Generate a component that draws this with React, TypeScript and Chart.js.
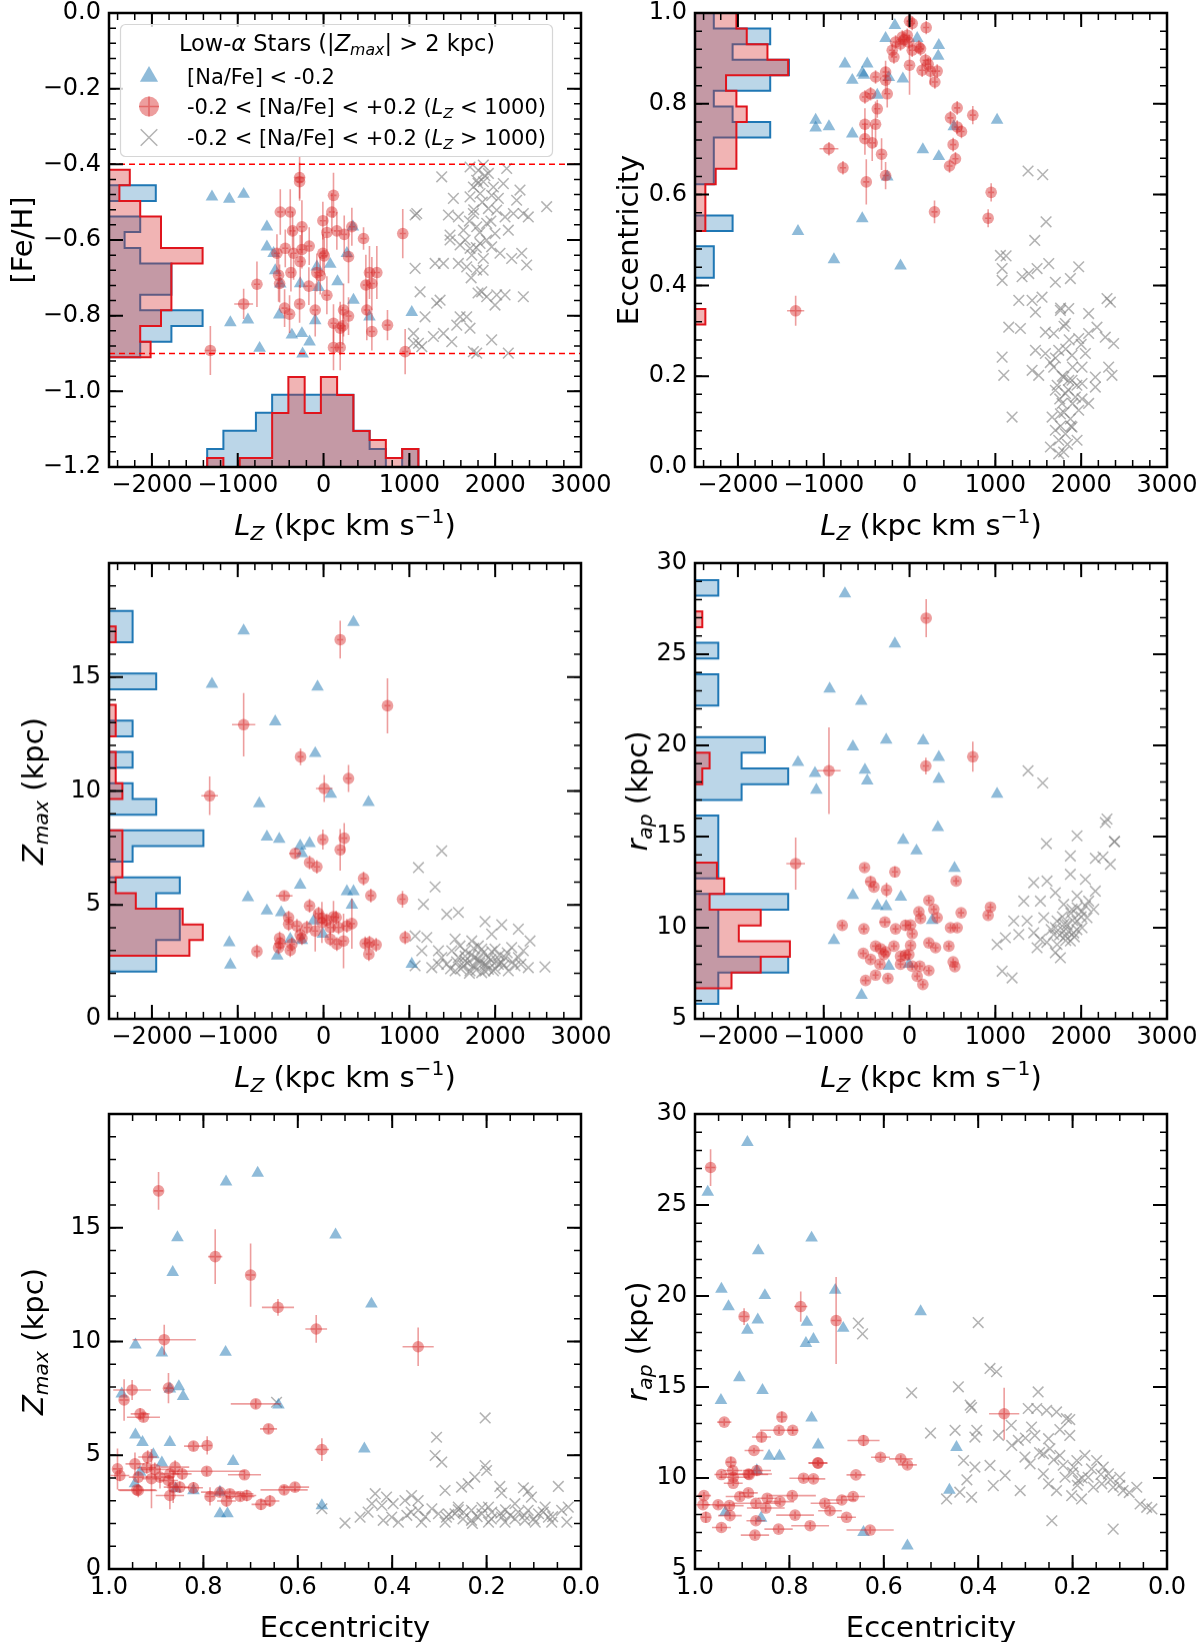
import { useEffect, useRef } from 'react';
import { Chart, registerables } from 'chart.js';

Chart.register(...registerables);

type Pt = [number, number];
type ErrPt = number[]; // [x, y, xerr?, yerr?]
type Seg = { t: string; it?: boolean; sub?: boolean; sup?: boolean };

const FONT = '"DejaVu Sans", sans-serif';

// ---------------- data: [Fe/H] vs Lz ----------------
const fehLzBlue: Pt[] = [
  [-1300, -0.486], [-1098, -0.492], [-931, -0.479], [-660, -0.565], [-660, -0.618], [-582, -0.635],
  [-563, -0.681], [-504, -0.716], [-272, -0.715], [-78, -0.671], [78, -0.664], [163, -0.71],
  [272, -0.635], [341, -0.565], [349, -0.759], [535, -0.803], [1028, -0.791], [-516, -0.798],
  [-97, -0.813], [-1086, -0.818], [-881, -0.811], [-369, -0.851], [-252, -0.847], [-163, -0.869],
  [-745, -0.886], [-244, -0.901], [-58, -0.725],
];
const fehLzRed: ErrPt[] = [
  [-279, -0.435, 60, 0.055], [-279, -0.446], [116, -0.482, 35, 0.06], [-504, -0.526, 35, 0.06],
  [-388, -0.526, 35, 0.06], [97, -0.526], [-8, -0.549], [-252, -0.565, 35, 0.07], [-361, -0.576],
  [330, -0.565], [39, -0.58], [155, -0.576], [241, -0.585], [466, -0.596, 35, 0.03], [923, -0.583, 35, 0.065],
  [-167, -0.616], [-446, -0.622], [-543, -0.635], [-349, -0.635, 35, 0.07], [-252, -0.625], [-8, -0.635],
  [8, -0.642], [-272, -0.657, 35, 0.07], [291, -0.644, 35, 0.07], [621, -0.686, 35, 0.07], [535, -0.686, 35, 0.07],
  [-380, -0.686], [-78, -0.686], [-39, -0.694], [-524, -0.693, 35, 0.07], [-512, -0.715], [-776, -0.717, 35, 0.06],
  [-171, -0.722], [493, -0.719, 35, 0.08], [563, -0.715, 35, 0.07], [39, -0.746], [-931, -0.769, 110, 0.04],
  [-279, -0.769], [-97, -0.785, 35, 0.07], [-454, -0.78], [-396, -0.796], [233, -0.785, 35, 0.07], [291, -0.801],
  [504, -0.785, 35, 0.08], [116, -0.82], [194, -0.833, 35, 0.07], [225, -0.827], [563, -0.842], [745, -0.825, 35, 0.04],
  [116, -0.884, 35, 0.06], [194, -0.884, 35, 0.06], [-1319, -0.892, 60, 0.065], [951, -0.895, 35, 0.06],
];
const fehLzGray: Pt[] = [
  [1377, -0.433], [1513, -0.49], [1707, -0.407], [1804, -0.416], [1862, -0.402], [1921, -0.424], [1785, -0.442],
  [1862, -0.446], [1746, -0.46], [1979, -0.46], [2095, -0.451], [2134, -0.411], [1824, -0.477], [1707, -0.486],
  [1959, -0.482], [2037, -0.49], [2289, -0.468], [2250, -0.495], [2328, -0.53], [2600, -0.512], [1067, -0.534],
  [1086, -0.53], [1455, -0.534], [1571, -0.539], [1746, -0.53], [1921, -0.517], [2018, -0.521], [2115, -0.539],
  [2212, -0.53], [2386, -0.539], [1474, -0.587], [1630, -0.574], [1785, -0.565], [1901, -0.556], [1998, -0.583],
  [2153, -0.574], [1474, -0.6], [1591, -0.613], [1707, -0.622], [1824, -0.609], [1959, -0.618], [2056, -0.635],
  [1727, -0.64], [1862, -0.649], [2192, -0.649], [2309, -0.635], [2367, -0.666], [1300, -0.662], [1397, -0.662],
  [1571, -0.662], [1668, -0.671], [1785, -0.679], [1067, -0.675], [1125, -0.737], [1319, -0.767], [1358, -0.759],
  [1843, -0.737], [1901, -0.75], [2018, -0.745], [2115, -0.745], [2328, -0.75], [1998, -0.772], [1183, -0.803],
  [1591, -0.803], [1668, -0.803], [1552, -0.825], [1707, -0.833], [1397, -0.847], [1280, -0.855], [1048, -0.847],
  [1106, -0.873], [1145, -0.882], [1494, -0.869], [1959, -0.864], [1746, -0.895], [1785, -0.899], [2153, -0.899],
  [1048, -0.873], [1800, -0.45], [1850, -0.5], [1750, -0.52], [1900, -0.6], [1820, -0.58], [1700, -0.55],
  [1880, -0.43], [1780, -0.62], [1950, -0.55], [1650, -0.6], [1860, -0.68], [1720, -0.7], [1800, -0.74],
];
const fehCuts = [-0.4, -0.9];
const fehBinEdges = [-0.91, -0.869, -0.827, -0.786, -0.745, -0.703, -0.662, -0.621, -0.579, -0.538, -0.497, -0.455, -0.414];
const fehHistBlue = [2, 4, 6, 2, 4, 4, 2, 1, 2, 0, 3, 0];
const fehHistRed = [4, 3, 5, 6, 6, 6, 9, 5, 5, 3, 1, 2];
const lzBinEdges = [-1356, -1167, -977, -788, -599, -410, -220, -31, 158, 348, 537, 726, 916, 1105];
const lzHistBlue = [1, 2, 2, 3, 4, 4, 4, 4, 4, 2, 1, 0, 1];
const lzHistRed = [1, 0, 1, 1, 6, 10, 6, 10, 8, 4, 3, 1, 2];

// ---------------- data: eccentricity vs Lz ----------------
const eccLzBlue: Pt[] = [
  [-171, 0.973], [-279, 0.944], [89, 0.944], [341, 0.929], [334, 0.905], [-753, 0.888], [-493, 0.888],
  [-551, 0.868], [-667, 0.852], [-241, 0.858], [-78, 0.855], [-376, 0.819], [-1094, 0.764], [-1094, 0.747],
  [-939, 0.75], [-667, 0.734], [516, 0.75], [1020, 0.764], [155, 0.699], [341, 0.684], [-260, 0.639],
  [-551, 0.547], [-1300, 0.519], [-881, 0.457], [-105, 0.443], [-532, 0.863],
];
const eccLzRed: ErrPt[] = [
  [0, 0.982], [31, 0.977], [194, 0.968], [-85, 0.947], [-27, 0.951], [-163, 0.936], [-105, 0.932], [-202, 0.918],
  [-182, 0.903], [-8, 0.936], [109, 0.925], [128, 0.921], [31, 0.918], [-66, 0.941], [0, 0.885, 35, 0.065],
  [186, 0.896], [217, 0.887], [147, 0.874], [244, 0.872, 35, 0.03], [322, 0.872], [295, 0.848],
  [-279, 0.87, 35, 0.025], [-396, 0.859], [-520, 0.815], [-454, 0.822], [-260, 0.822, 35, 0.03],
  [-376, 0.789, 35, 0.02], [-279, 0.852, 35, 0.03], [-520, 0.755, 35, 0.035], [-396, 0.755, 35, 0.05],
  [-520, 0.723, 35, 0.035], [-435, 0.714, 35, 0.04], [-326, 0.689, 35, 0.035], [-279, 0.642, 35, 0.03],
  [-504, 0.628, 35, 0.05], [-939, 0.701, 110, 0.015], [-776, 0.659], [-1327, 0.344, 100, 0.033],
  [555, 0.791], [477, 0.769], [737, 0.775, 35, 0.02], [555, 0.749], [605, 0.739], [508, 0.71], [535, 0.679],
  [466, 0.663], [951, 0.605, 35, 0.02], [291, 0.562, 35, 0.025], [916, 0.548, 35, 0.02],
];
const eccLzGray: Pt[] = [
  [1381, 0.652], [1552, 0.644], [1591, 0.54], [1459, 0.499], [1059, 0.466], [1125, 0.465], [1079, 0.437],
  [1079, 0.411], [1311, 0.419], [1389, 0.426], [1486, 0.437], [1622, 0.448], [1971, 0.441], [1699, 0.407],
  [1874, 0.415], [1273, 0.367], [1428, 0.367], [1544, 0.374], [1467, 0.341], [1758, 0.345], [1855, 0.349],
  [2087, 0.338], [2301, 0.371], [2340, 0.363], [1156, 0.308], [1292, 0.305], [1583, 0.297], [1680, 0.294],
  [1816, 0.316], [1971, 0.283], [2087, 0.294], [2184, 0.308], [2281, 0.286], [2378, 0.272], [1467, 0.257],
  [1583, 0.25], [1738, 0.257], [1893, 0.246], [2049, 0.25], [1079, 0.242], [1098, 0.202], [1428, 0.213],
  [1505, 0.202], [1680, 0.22], [1796, 0.198], [1893, 0.191], [2010, 0.184], [2165, 0.198], [2320, 0.22],
  [2359, 0.202], [1699, 0.169], [1816, 0.162], [1932, 0.154], [2087, 0.14], [1777, 0.14], [1661, 0.11],
  [1758, 0.117], [1874, 0.106], [1971, 0.125], [1195, 0.11], [1699, 0.081], [1816, 0.073], [1952, 0.059],
  [1738, 0.059], [1641, 0.044], [1893, 0.088], [1738, 0.029], [1796, 0.033], [2010, 0.15], [2165, 0.176],
  [1855, 0.191], [2010, 0.22], [1750, 0.15], [1800, 0.12], [1850, 0.17], [1900, 0.14], [1780, 0.2], [1720, 0.18],
  [1880, 0.09], [1840, 0.05], [1760, 0.09], [1950, 0.18], [1700, 0.24], [1820, 0.26], [1900, 0.22], [1640, 0.23],
  [1860, 0.28], [1800, 0.31], [1760, 0.35], [2000, 0.27],
];
const eccBinEdges = [0.314, 0.348, 0.383, 0.417, 0.451, 0.486, 0.52, 0.554, 0.588, 0.623, 0.657, 0.691, 0.726,
  0.76, 0.794, 0.829, 0.863, 0.897, 0.931, 0.966, 1.0];
const eccHistBlue = [0, 0, 0, 1, 1, 0, 2, 0, 0, 1, 1, 1, 4, 2, 1, 4, 5, 2, 4, 1];
const eccHistRed = [1, 0, 0, 0, 0, 0, 1, 1, 1, 2, 4, 4, 4, 5, 4, 3, 9, 7, 5, 4];

// ---------------- data: Zmax vs Lz ----------------
const zmaxLzBlue: Pt[] = [
  [155, 20.15], [349, 17.4], [-931, 17.03], [-1300, 14.69], [-70, 14.57], [-563, 13.04], [-97, 11.65], [85, 9.86],
  [524, 9.5], [-749, 9.45], [-660, 7.99], [-516, 7.89], [-272, 7.59], [-163, 7.7], [-252, 7.26], [-272, 5.88],
  [272, 5.59], [349, 5.59], [330, 5.0], [-881, 5.33], [-660, 4.74], [-493, 4.67], [-116, 4.3], [-8, 3.72],
  [-388, 3.5], [-252, 3.45], [-1098, 3.35], [-539, 2.77], [-1086, 2.37], [1028, 2.4],
];
const zmaxLzRed: ErrPt[] = [
  [194, 16.64, 35, 0.83], [745, 13.74, 35, 1.21], [-931, 12.91, 136, 1.39], [-268, 11.5, 35, 0.37],
  [291, 10.55, 35, 0.59], [8, 10.11, 97, 0.59], [-1327, 9.79, 97, 0.85], [-8, 7.87, 35, 0.44], [241, 7.93, 35, 0.66],
  [194, 7.42, 35, 0.91], [-330, 7.26, 70, 0.2], [-163, 6.86], [-78, 6.67], [466, 6.16], [-458, 5.4, 97, 0.2],
  [551, 5.41], [920, 5.25, 35, 0.37], [-163, 4.96], [-407, 4.45], [-58, 4.62], [-19, 4.42], [39, 4.33],
  [116, 4.48, 35, 0.7], [147, 4.45], [-407, 4.16], [-310, 4.08], [-194, 4.01], [-97, 3.86, 35, 0.9], [78, 4.01],
  [175, 4.01], [272, 4.08], [330, 4.18, 35, 1.1], [951, 3.57], [-512, 3.54], [-504, 3.31, 70, 0.3], [-272, 3.69],
  [-252, 3.54], [-369, 3.28], [-776, 2.96], [-524, 3.13], [-388, 3.01], [155, 3.28], [233, 3.42, 35, 1.2],
  [485, 3.31], [535, 3.35], [613, 3.25], [528, 2.84], [78, 3.5], [-19, 4.23, 35, 0.9],
];
const zmaxLzGray: Pt[] = [
  [1377, 7.37], [1106, 6.64], [1300, 5.79], [1164, 5.03], [1436, 4.59], [1571, 4.67], [1882, 4.27], [2076, 4.13],
  [2270, 3.94], [2406, 3.42], [1067, 3.64], [1203, 3.57], [1533, 3.5], [1959, 3.72], [1727, 3.42], [1804, 3.2],
  [1339, 2.99], [1494, 2.99], [1649, 2.99], [1843, 3.06], [1998, 3.06], [2192, 3.13], [2328, 2.99], [1145, 2.99],
  [1377, 2.69], [1571, 2.69], [1765, 2.69], [1921, 2.69], [2115, 2.69], [2270, 2.69], [1436, 2.4], [1630, 2.33],
  [1746, 2.33], [1882, 2.4], [2037, 2.4], [2231, 2.33], [2386, 2.25], [2580, 2.28], [1067, 2.33], [1261, 2.25],
  [1533, 2.11], [1707, 2.11], [1843, 2.03], [1979, 2.11], [2153, 2.11], [1339, 2.4], [1649, 2.55], [1824, 2.55],
  [2076, 2.47], [1921, 2.18], [1600, 2.2], [1680, 2.45], [1720, 2.8], [1780, 2.15], [1800, 2.6], [1860, 2.9],
  [1900, 2.35], [1950, 2.6], [2000, 2.2], [2050, 2.8], [2100, 2.35], [1650, 2.75], [1550, 2.5], [1750, 3.1],
  [1880, 2.1], [2020, 2.55], [2200, 2.5], [1700, 2.0], [1960, 2.95], [1820, 2.45], [2140, 2.9], [1480, 2.2],
  [2300, 2.4], [1590, 3.2],
];
const zmaxBinEdges = [2.08, 2.77, 3.46, 4.14, 4.83, 5.52, 6.21, 6.9, 7.58, 8.27, 8.96, 9.65, 10.34, 11.02, 11.71,
  12.4, 13.09, 13.78, 14.46, 15.15, 15.84, 16.53, 17.22, 17.9];
const zmaxHistBlue = [2, 2, 3, 3, 2, 3, 0, 1, 4, 0, 2, 1, 0, 1, 0, 1, 0, 0, 2, 0, 0, 1, 1];
const zmaxHistRed = [0, 12, 14, 11, 4, 1, 2, 2, 2, 0, 0, 2, 1, 1, 0, 1, 1, 0, 0, 0, 0, 1, 0];

// ---------------- data: r_ap vs Lz ----------------
const rapLzBlue: Pt[] = [
  [-753, 28.32], [-171, 25.57], [-931, 23.1], [-563, 22.42], [-272, 20.3], [159, 20.26], [-660, 19.93],
  [341, 19.35], [-1300, 19.07], [-1102, 18.47], [-520, 18.65], [-493, 18.06], [341, 18.16], [-1086, 17.55],
  [1020, 17.33], [330, 15.5], [-74, 14.8], [81, 14.22], [524, 13.27], [-660, 11.78], [-101, 11.69], [-376, 11.2],
  [-272, 11.16], [264, 10.41], [-881, 9.31], [-241, 7.89], [-8, 8.0], [-559, 6.3],
];
const rapLzRed: ErrPt[] = [
  [194, 26.98, 35, 1.04], [-939, 18.61, 136, 2.38], [737, 19.38, 35, 0.82], [190, 18.87, 35, 0.46],
  [-1327, 13.52, 109, 1.43], [-524, 13.3], [-171, 13.06, 35, 0.3], [-454, 12.53, 60, 0.3], [-415, 12.23],
  [-268, 12.07, 35, 0.4], [543, 12.56], [225, 11.5], [283, 11.01], [109, 10.88], [128, 10.51], [322, 10.55],
  [601, 10.82], [943, 11.13], [916, 10.68], [-784, 10.13], [-532, 9.94], [-287, 10.31, 60, 0.2], [-163, 9.94],
  [-47, 10.13, 40, 0.3], [12, 10.15], [31, 9.67], [477, 10.0], [555, 10.0], [-182, 8.99], [-396, 8.99, 40, 0.2],
  [-338, 8.85], [-279, 8.68], [12, 9.03], [225, 9.17], [303, 8.9], [458, 8.99], [-539, 8.59, 40, 0.2],
  [-454, 8.26], [-345, 8.0], [-299, 8.53], [-105, 8.44], [-47, 8.5], [-8, 8.53], [-105, 8.0], [31, 7.89],
  [120, 7.89], [225, 7.65], [508, 8.13], [528, 7.86], [-396, 7.4], [-252, 7.22], [-512, 7.11, 45, 0.2],
  [89, 7.34], [155, 6.89],
];
const rapLzGray: Pt[] = [
  [1381, 18.61], [1552, 17.94], [2301, 15.96], [2390, 14.73], [1595, 14.61], [1952, 15.04], [2386, 14.72],
  [2254, 13.88], [2340, 13.48], [1874, 13.94], [2165, 13.81], [2281, 15.77], [1447, 12.47], [1602, 12.56],
  [1874, 12.93], [2049, 12.65], [2165, 12.01], [1699, 11.92], [1952, 11.74], [2087, 11.46], [1331, 11.46],
  [1525, 11.46], [1796, 11.28], [1893, 11.01], [2010, 10.91], [2146, 11.01], [1214, 10.37], [1370, 10.37],
  [1564, 10.55], [1719, 10.37], [1835, 10.18], [1952, 10.37], [2068, 10.55], [1117, 9.45], [1020, 9.08],
  [1273, 9.63], [1447, 9.72], [1525, 9.36], [1680, 9.63], [1796, 9.82], [1913, 9.72], [2010, 10.0], [1486, 8.9],
  [1719, 9.08], [1816, 9.54], [1699, 8.63], [1758, 8.35], [1874, 9.27], [1079, 7.62], [1195, 7.25], [1952, 11.1],
  [1800, 10.2], [1850, 9.8], [1900, 10.4], [1750, 9.6], [1880, 10.8], [1950, 9.9], [1700, 10.0], [1820, 9.3],
  [2000, 10.6], [1780, 10.6], [1920, 9.5], [2050, 11.2], [1650, 9.9], [1600, 9.2],
];
const rapBinEdges = [5.82, 6.68, 7.54, 8.4, 9.26, 10.13, 10.99, 11.85, 12.71, 13.57, 14.43, 15.29, 16.15, 17.01,
  17.87, 18.74, 19.6, 20.46, 21.32, 22.18, 23.04, 23.9, 24.76, 25.63, 26.49, 27.35, 28.21, 29.07];
const rapHistBlue = [1, 1, 4, 1, 1, 1, 4, 0, 1, 1, 1, 1, 0, 2, 4, 2, 3, 0, 0, 1, 1, 0, 1, 0, 0, 0, 1];
const rapHistRed = [0, 5, 9, 13, 6, 9, 2, 4, 3, 0, 0, 0, 0, 0, 1, 2, 0, 0, 0, 0, 0, 0, 0, 0, 1, 0, 0];

// ---------------- data: Zmax vs eccentricity ----------------
const zmaxEccBlue: Pt[] = [
  [0.701, 20.15], [0.685, 17.4], [0.752, 17.02], [0.855, 14.57], [0.52, 14.69], [0.865, 13.04], [0.444, 11.65],
  [0.944, 9.85], [0.888, 9.5], [0.753, 9.53], [0.973, 7.7], [0.871, 7.92], [0.852, 8.02], [0.843, 7.59],
  [0.641, 7.21], [0.944, 5.9], [0.929, 5.57], [0.871, 5.57], [0.459, 5.28], [0.906, 5.03], [0.888, 4.67],
  [0.737, 4.73], [0.934, 4.26], [0.945, 3.75], [0.859, 3.53], [0.821, 3.45], [0.765, 3.38], [0.765, 2.43],
  [0.749, 2.43], [0.549, 2.79],
];
const zmaxEccRed: ErrPt[] = [
  [0.895, 16.62, 0.01, 0.83], [0.775, 13.73, 0.015, 1.2], [0.7, 12.92, 0.01, 1.39], [0.642, 11.5, 0.034, 0.37],
  [0.561, 10.55, 0.023, 0.61], [0.345, 9.77, 0.033, 0.85], [0.883, 10.08, 0.067, 0.66], [0.951, 7.87, 0.04, 0.44],
  [0.874, 7.95, 0.01, 0.66], [0.968, 7.43, 0.01, 0.91], [0.934, 6.82], [0.927, 6.67, 0.035, 0.2],
  [0.689, 7.26, 0.053, 0.2], [0.662, 6.16, 0.018, 0.2], [0.549, 5.25, 0.015, 0.5], [0.821, 5.4, 0.02, 0.2],
  [0.792, 5.43, 0.01, 0.4], [0.982, 4.4, 0.01, 0.9], [0.977, 4.11], [0.945, 4.62, 0.02, 0.5], [0.92, 4.45],
  [0.918, 4.92, 0.02, 0.3], [0.938, 4.04], [0.941, 3.48, 0.04, 0.2], [0.91, 3.97, 0.02, 1.3], [0.892, 4.04, 0.03, 0.5],
  [0.871, 4.18], [0.86, 4.48, 0.03, 0.3], [0.845, 4.18], [0.874, 3.89], [0.864, 3.6, 0.02, 0.7],
  [0.871, 3.23, 0.03, 0.6], [0.85, 3.6], [0.821, 3.57], [0.793, 4.3, 0.08, 0.2], [0.713, 4.14, 0.035, 0.2],
  [0.786, 3.19, 0.01, 0.4], [0.765, 3.38, 0.04, 0.2], [0.751, 2.99], [0.744, 3.31, 0.05, 0.2],
  [0.722, 3.19, 0.03, 0.2], [0.708, 3.23], [0.678, 2.84], [0.659, 2.99], [0.629, 3.48, 0.05, 0.2],
  [0.606, 3.6, 0.03, 0.2], [0.938, 3.45, 0.04, 0.3], [0.903, 4.38, 0.03, 0.3],
];
const zmaxEccGray: Pt[] = [
  [0.203, 6.64], [0.306, 5.79], [0.309, 4.99], [0.295, 4.7], [0.203, 4.55], [0.2, 4.33], [0.225, 4.04], [0.239, 3.75],
  [0.172, 3.63], [0.168, 3.34], [0.122, 3.57], [0.112, 3.42], [0.048, 3.63], [0.288, 3.45], [0.253, 3.6],
  [0.436, 3.31], [0.412, 3.16], [0.359, 3.23], [0.443, 2.87], [0.422, 2.79], [0.398, 2.87], [0.373, 3.01],
  [0.345, 3.01], [0.468, 2.28], [0.451, 2.5], [0.419, 2.14], [0.401, 2.28], [0.369, 2.36], [0.345, 2.58],
  [0.316, 2.65], [0.302, 2.43], [0.285, 2.28], [0.267, 2.43], [0.249, 2.5], [0.232, 2.58], [0.21, 2.43],
  [0.189, 2.5], [0.168, 2.28], [0.15, 2.36], [0.133, 2.5], [0.112, 2.58], [0.09, 2.43], [0.069, 2.28],
  [0.041, 2.58], [0.027, 2.72], [0.5, 2.02], [0.549, 2.65], [0.645, 7.33], [0.288, 2.06], [0.232, 2.14],
  [0.196, 2.06], [0.161, 2.06], [0.119, 2.14], [0.097, 2.06], [0.062, 2.06], [0.03, 2.06], [0.387, 2.06],
  [0.338, 2.06], [0.26, 2.72], [0.196, 2.72], [0.14, 2.87], [0.105, 3.16], [0.076, 2.72], [0.28, 2.4],
  [0.25, 2.2], [0.22, 2.3], [0.19, 2.2], [0.17, 2.45], [0.14, 2.2], [0.12, 2.35], [0.1, 2.2], [0.08, 2.5],
  [0.26, 2.6], [0.21, 2.7], [0.16, 2.6], [0.33, 2.3], [0.36, 2.5], [0.06, 2.3], [0.23, 2.0],
];

// ---------------- data: r_ap vs eccentricity ----------------
const rapEccBlue: Pt[] = [
  [0.889, 28.44], [0.973, 25.71], [0.753, 23.19], [0.866, 22.49], [0.944, 20.38], [0.703, 20.32], [0.929, 19.42],
  [0.852, 20.03], [0.522, 19.14], [0.867, 18.69], [0.889, 18.13], [0.763, 18.56], [0.686, 18.23], [0.765, 17.4],
  [0.749, 17.62], [0.906, 15.52], [0.945, 14.27], [0.857, 14.82], [0.753, 13.3], [0.739, 11.82], [0.843, 11.2],
  [0.821, 11.2], [0.446, 11.69], [0.461, 9.34], [0.869, 10.41], [0.936, 8.11], [0.86, 7.8], [0.643, 7.02],
  [0.55, 6.27],
];
const rapEccRed: ErrPt[] = [
  [0.967, 27.06, 0.01, 1.01], [0.896, 18.87, 0.01, 0.46], [0.776, 19.42, 0.014, 0.83], [0.701, 18.65, 0.01, 2.39],
  [0.345, 13.53, 0.032, 1.43], [0.938, 13.07, 0.015, 0.2], [0.816, 13.35, 0.01, 0.3], [0.822, 12.62, 0.04, 0.2],
  [0.793, 12.62, 0.01, 0.2], [0.859, 12.25, 0.02, 0.3], [0.643, 12.06, 0.034, 0.3], [0.875, 11.51],
  [0.607, 11.14, 0.02, 0.2], [0.564, 11.05, 0.025, 0.2], [0.55, 10.72, 0.02, 0.2], [0.924, 10.87, 0.01, 0.3],
  [0.92, 10.41], [0.944, 10.19, 0.015, 0.2], [0.919, 10.04, 0.03, 0.2], [0.887, 10.22, 0.05, 0.2],
  [0.869, 10.41, 0.03, 0.3], [0.74, 10.83], [0.77, 9.99, 0.03, 0.2], [0.749, 9.95, 0.025, 0.2], [0.659, 10.17],
  [0.981, 9.03, 0.015, 0.2], [0.983, 8.53, 0.015, 0.2], [0.977, 7.84, 0.01, 0.3], [0.951, 8.53, 0.035, 0.2],
  [0.944, 7.28, 0.02, 0.2], [0.926, 7.93, 0.025, 0.2], [0.927, 8.48, 0.03, 0.2], [0.905, 8.98, 0.03, 0.2],
  [0.887, 9.18, 0.02, 0.2], [0.871, 8.61, 0.05, 0.2], [0.871, 7.65, 0.02, 0.2], [0.873, 6.86, 0.03, 0.2],
  [0.85, 8.35, 0.04, 0.2], [0.847, 8.89, 0.02, 0.2], [0.82, 8.7, 0.03, 0.2], [0.823, 7.19, 0.03, 0.2],
  [0.794, 9.03, 0.05, 0.2], [0.788, 7.96, 0.04, 0.2], [0.756, 7.38, 0.04, 0.2], [0.725, 8.61, 0.03, 0.2],
  [0.714, 8.2, 0.025, 0.2], [0.689, 8.79, 0.03, 0.2], [0.679, 7.84], [0.665, 8.98, 0.025, 0.2],
  [0.629, 7.14, 0.05, 0.2], [0.739, 10.82], [0.885, 10.19, 0.04, 0.2], [0.919, 9.71],
];
const rapEccGray: Pt[] = [
  [0.654, 18.51], [0.645, 17.92], [0.4, 18.54], [0.541, 14.68], [0.501, 12.47], [0.442, 15.01], [0.375, 16.02],
  [0.361, 15.84], [0.273, 14.73], [0.417, 14.0], [0.414, 13.87], [0.449, 12.62], [0.403, 12.62], [0.407, 12.25],
  [0.357, 12.34], [0.329, 11.79], [0.315, 12.07], [0.294, 13.82], [0.276, 13.82], [0.255, 13.72], [0.234, 13.63],
  [0.213, 13.26], [0.206, 13.21], [0.287, 12.8], [0.28, 12.34], [0.251, 12.16], [0.227, 12.66], [0.206, 12.34],
  [0.301, 11.15], [0.29, 10.78], [0.262, 11.33], [0.248, 11.61], [0.227, 11.24], [0.431, 10.96], [0.407, 10.6],
  [0.375, 10.69], [0.343, 10.14], [0.424, 9.9], [0.414, 8.94], [0.439, 9.22], [0.467, 8.85], [0.368, 9.58],
  [0.311, 9.31], [0.262, 10.23], [0.251, 9.68], [0.234, 9.31], [0.216, 10.04], [0.198, 10.6], [0.191, 10.96],
  [0.174, 11.24], [0.149, 10.96], [0.135, 10.6], [0.124, 10.23], [0.188, 9.86], [0.167, 10.04], [0.156, 9.49],
  [0.138, 9.68], [0.114, 9.49], [0.1, 10.04], [0.202, 9.03], [0.181, 8.85], [0.093, 9.31], [0.064, 9.49],
  [0.057, 8.57], [0.043, 8.39], [0.032, 8.3], [0.244, 7.65], [0.114, 7.19], [0.2, 10.3], [0.18, 10.0],
  [0.16, 10.5], [0.22, 10.7], [0.14, 10.2], [0.12, 9.9], [0.24, 11.0], [0.1, 9.6], [0.08, 9.2], [0.19, 9.6],
  [0.27, 11.4], [0.3, 12.2], [0.33, 12.9],
];

// ---------------- styling ----------------
const BLUE_PT = 'rgba(31,119,180,0.5)';
const RED_PT = 'rgba(214,39,40,0.45)';
const RED_ERR = 'rgba(214,39,40,0.45)';
const GRAY_PT = 'rgba(128,128,128,0.6)';
const BLUE_FILL = 'rgba(31,119,180,0.3)';
const RED_FILL = 'rgba(214,39,40,0.35)';
const BLUE_EDGE = '#1f77b4';
const RED_EDGE = '#e0141c';

const LZ_TITLE: Seg[] = [{ t: 'L', it: true }, { t: 'Z', it: true, sub: true }, { t: ' (kpc km s' }, { t: '\u22121', sup: true }, { t: ')' }];
const FEH_TITLE: Seg[] = [{ t: '[Fe/H]' }];
const ECC_TITLE: Seg[] = [{ t: 'Eccentricity' }];
const ZMAX_TITLE: Seg[] = [{ t: 'Z', it: true }, { t: 'max', it: true, sub: true }, { t: ' (kpc)' }];
const RAP_TITLE: Seg[] = [{ t: 'r', it: true }, { t: 'ap', it: true, sub: true }, { t: ' (kpc)' }];

const minus = (s: string) => s.replace('-', '\u2212');
const fmtInt = (v: number) => minus(String(Math.round(v)));
const fmt1 = (v: number) => minus((Math.abs(v) < 1e-9 ? 0 : v).toFixed(1));

interface Hist { dir: 'h' | 'v'; edges: number[]; counts: number[]; color: 'blue' | 'red'; unitPx: number }
interface Axis { min: number; max: number; major: number; minor: number; reverse?: boolean; fmt: (v: number) => string }
interface Panel {
  id: string; left: number; top: number; width: number; height: number; padLeft: number;
  x: Axis; y: Axis; xTitle: Seg[]; yTitle: Seg[]; yTitleX: number;
  gray: Pt[]; blue: Pt[]; red: ErrPt[]; redErr: [number, number];
  hists: Hist[]; cuts?: number[]; legend?: boolean;
}

const PAD_T = 30, PAD_R = 60, PAD_B = 80;
const LZ_AXIS: Axis = { min: -2500, max: 3000, major: 1000, minor: 200, fmt: fmtInt };
const ECC_X: Axis = { min: 0, max: 1, major: 0.2, minor: 0.05, reverse: true, fmt: fmt1 };
const ZMAX_Y: Axis = { min: 0, max: 20, major: 5, minor: 1, fmt: (v) => (v >= 20 ? '' : fmtInt(v)) };
const RAP_Y: Axis = { min: 5, max: 30, major: 5, minor: 1, fmt: fmtInt };

const PANELS: Panel[] = [
  {
    id: 'feh', left: 109, top: 12.5, width: 472, height: 454.5, padLeft: 109,
    x: LZ_AXIS, y: { min: -1.2, max: 0, major: 0.2, minor: 0.04, fmt: fmt1 },
    xTitle: LZ_TITLE, yTitle: FEH_TITLE, yTitleX: 21,
    gray: fehLzGray, blue: fehLzBlue, red: fehLzRed, redErr: [35, 0.05],
    hists: [
      { dir: 'h', edges: fehBinEdges, counts: fehHistBlue, color: 'blue', unitPx: 15.6 },
      { dir: 'h', edges: fehBinEdges, counts: fehHistRed, color: 'red', unitPx: 10.4 },
      { dir: 'v', edges: lzBinEdges, counts: lzHistBlue, color: 'blue', unitPx: 18.1 },
      { dir: 'v', edges: lzBinEdges, counts: lzHistRed, color: 'red', unitPx: 9.0 },
    ],
    cuts: fehCuts, legend: true,
  },
  {
    id: 'ecc', left: 695, top: 12.5, width: 472, height: 454.5, padLeft: 105,
    x: LZ_AXIS, y: { min: 0, max: 1, major: 0.2, minor: 0.04, fmt: fmt1 },
    xTitle: LZ_TITLE, yTitle: ECC_TITLE, yTitleX: 627,
    gray: eccLzGray, blue: eccLzBlue, red: eccLzRed, redErr: [35, 0.015],
    hists: [
      { dir: 'h', edges: eccBinEdges, counts: eccHistBlue, color: 'blue', unitPx: 18.8 },
      { dir: 'h', edges: eccBinEdges, counts: eccHistRed, color: 'red', unitPx: 10.35 },
    ],
  },
  {
    id: 'zmaxlz', left: 109, top: 563, width: 472, height: 455.5, padLeft: 109,
    x: LZ_AXIS, y: ZMAX_Y, xTitle: LZ_TITLE, yTitle: ZMAX_TITLE, yTitleX: 32,
    gray: zmaxLzGray, blue: zmaxLzBlue, red: zmaxLzRed, redErr: [35, 0.3],
    hists: [
      { dir: 'h', edges: zmaxBinEdges, counts: zmaxHistBlue, color: 'blue', unitPx: 23.6 },
      { dir: 'h', edges: zmaxBinEdges, counts: zmaxHistRed, color: 'red', unitPx: 6.7 },
    ],
  },
  {
    id: 'raplz', left: 695, top: 563, width: 472, height: 455.5, padLeft: 105,
    x: LZ_AXIS, y: RAP_Y, xTitle: LZ_TITLE, yTitle: RAP_TITLE, yTitleX: 636,
    gray: rapLzGray, blue: rapLzBlue, red: rapLzRed, redErr: [35, 0.2],
    hists: [
      { dir: 'h', edges: rapBinEdges, counts: rapHistBlue, color: 'blue', unitPx: 23.3 },
      { dir: 'h', edges: rapBinEdges, counts: rapHistRed, color: 'red', unitPx: 7.3 },
    ],
  },
  {
    id: 'zmaxecc', left: 109, top: 1113.5, width: 472, height: 455.5, padLeft: 109,
    x: ECC_X, y: ZMAX_Y, xTitle: ECC_TITLE, yTitle: ZMAX_TITLE, yTitleX: 32,
    gray: zmaxEccGray, blue: zmaxEccBlue, red: zmaxEccRed, redErr: [0.02, 0.25], hists: [],
  },
  {
    id: 'rapecc', left: 695, top: 1113.5, width: 472, height: 455.5, padLeft: 105,
    x: ECC_X, y: RAP_Y, xTitle: ECC_TITLE, yTitle: RAP_TITLE, yTitleX: 636,
    gray: rapEccGray, blue: rapEccBlue, red: rapEccRed, redErr: [0.02, 0.15], hists: [],
  },
];

function drawRich(ctx: CanvasRenderingContext2D, segs: Seg[], x: number, y: number, size: number,
  rotated: boolean, align: 'center' | 'left') {
  ctx.save();
  ctx.translate(x, y);
  if (rotated) ctx.rotate(-Math.PI / 2);
  const parts = segs.map((s) => {
    const fs = s.sub || s.sup ? size * 0.7 : size;
    const font = (s.it ? 'italic ' : '') + fs + 'px ' + FONT;
    ctx.font = font;
    return { s, font, w: ctx.measureText(s.t).width };
  });
  const total = parts.reduce((a, p) => a + p.w, 0);
  let cx = align === 'left' ? 0 : -total / 2;
  ctx.fillStyle = '#000';
  ctx.textAlign = 'left';
  ctx.textBaseline = 'alphabetic';
  const base = size * 0.365;
  for (const p of parts) {
    ctx.font = p.font;
    const dy = p.s.sub ? size * 0.2 : p.s.sup ? -size * 0.4 : 0;
    ctx.fillText(p.s.t, cx, base + dy);
    cx += p.w;
  }
  ctx.restore();
}

// tick positions: multiples of the step that fall inside the axis range
function stepValues(a: Axis, step: number) {
  const out: number[] = [];
  const start = Math.ceil(a.min / step - 1e-6);
  for (let k = start; k * step <= a.max + 1e-9; k++) out.push(Math.round(k * step * 1e6) / 1e6);
  return out;
}

function drawLegend(ctx: CanvasRenderingContext2D, ox: number, oy: number) {
  const x0 = 120.5 - ox, y0 = 24 - oy, w = 432, h = 132, r = 5;
  ctx.save();
  ctx.beginPath();
  ctx.moveTo(x0 + r, y0);
  ctx.arcTo(x0 + w, y0, x0 + w, y0 + h, r);
  ctx.arcTo(x0 + w, y0 + h, x0, y0 + h, r);
  ctx.arcTo(x0, y0 + h, x0, y0, r);
  ctx.arcTo(x0, y0, x0 + w, y0, r);
  ctx.closePath();
  ctx.fillStyle = 'rgba(255,255,255,0.8)';
  ctx.fill();
  ctx.strokeStyle = '#d6d6d6';
  ctx.lineWidth = 1.2;
  ctx.stroke();

  drawRich(ctx, [{ t: 'Low-' }, { t: '\u03b1', it: true }, { t: ' Stars (|' }, { t: 'Z', it: true },
    { t: 'max', it: true, sub: true }, { t: '| > 2 kpc)' }], 337 - ox, 42 - oy, 22.5, false, 'center');

  const mx = 149 - ox;
  // triangle
  const ty = 76 - oy, tr = 10.5;
  ctx.beginPath();
  ctx.moveTo(mx, ty - tr);
  ctx.lineTo(mx + tr * 0.866, ty + tr * 0.5);
  ctx.lineTo(mx - tr * 0.866, ty + tr * 0.5);
  ctx.closePath();
  ctx.fillStyle = BLUE_PT;
  ctx.fill();
  // circle with error bars
  const cy = 106 - oy;
  ctx.beginPath();
  ctx.arc(mx, cy, 10, 0, Math.PI * 2);
  ctx.fillStyle = RED_PT;
  ctx.fill();
  ctx.strokeStyle = RED_ERR;
  ctx.lineWidth = 1.6;
  ctx.beginPath();
  ctx.moveTo(mx - 10, cy); ctx.lineTo(mx + 10, cy);
  ctx.moveTo(mx, cy - 10); ctx.lineTo(mx, cy + 10);
  ctx.stroke();
  // cross
  const xy = 137 - oy, xr = 8.3;
  ctx.strokeStyle = GRAY_PT;
  ctx.lineWidth = 1.5;
  ctx.beginPath();
  ctx.moveTo(mx - xr, xy - xr); ctx.lineTo(mx + xr, xy + xr);
  ctx.moveTo(mx + xr, xy - xr); ctx.lineTo(mx - xr, xy + xr);
  ctx.stroke();

  const tx = 187 - ox;
  drawRich(ctx, [{ t: '[Na/Fe] < -0.2' }], tx, ty, 21, false, 'left');
  drawRich(ctx, [{ t: '-0.2 < [Na/Fe] < +0.2 (' }, { t: 'L', it: true }, { t: 'Z', it: true, sub: true }, { t: ' < 1000)' }],
    tx, cy, 21, false, 'left');
  drawRich(ctx, [{ t: '-0.2 < [Na/Fe] < +0.2 (' }, { t: 'L', it: true }, { t: 'Z', it: true, sub: true }, { t: ' > 1000)' }],
    tx, xy, 21, false, 'left');
  ctx.restore();
}

function histOutline(h: Hist) {
  const pts: { x: number; y: number }[] = [];
  const e = h.edges;
  if (h.dir === 'h') {
    pts.push({ x: 0, y: e[0] });
    h.counts.forEach((c, i) => { pts.push({ x: c, y: e[i] }); pts.push({ x: c, y: e[i + 1] }); });
    pts.push({ x: 0, y: e[e.length - 1] });
  } else {
    pts.push({ x: e[0], y: 0 });
    h.counts.forEach((c, i) => { pts.push({ x: e[i], y: c }); pts.push({ x: e[i + 1], y: c }); });
    pts.push({ x: e[e.length - 1], y: 0 });
  }
  return pts;
}

function axisScale(a: Axis, position: 'bottom' | 'left', fit: (s: any) => void) {
  return {
    type: 'linear', min: a.min, max: a.max, reverse: !!a.reverse, position,
    grid: { display: false, drawTicks: false },
    border: { display: false },
    ticks: {
      stepSize: a.major, includeBounds: false, autoSkip: false, maxRotation: 0, minRotation: 0,
      padding: position === 'bottom' ? 4 : 8, color: '#000', font: { family: FONT, size: 24 },
      callback: (v: number) => a.fmt(v),
    },
    afterBuildTicks: (s: any) => { s.ticks = stepValues(a, a.major).map((value) => ({ value })); },
    afterFit: fit,
  };
}

function buildConfig(p: Panel): any {
  const ox = p.left - p.padLeft, oy = p.top - PAD_T;
  const toXY = (pts: Pt[]) => pts.map(([x, y]) => ({ x, y }));
  const errs = p.red.map((r) => [r[0], r[1], r[2] ?? p.redErr[0], r[3] ?? p.redErr[1]]);

  const datasets: any[] = [
    {
      label: 'gray', data: toXY(p.gray), pointStyle: 'crossRot', pointRadius: 7.5,
      pointBorderColor: GRAY_PT, pointBorderWidth: 1.5, pointBackgroundColor: 'rgba(0,0,0,0)', order: 6, clip: 0,
    },
    {
      label: 'blue', data: toXY(p.blue), pointStyle: 'triangle', pointRadius: 7.3,
      pointBackgroundColor: BLUE_PT, pointBorderWidth: 0, order: 5, clip: 0,
    },
    {
      label: 'red', data: p.red.map((r) => ({ x: r[0], y: r[1] })), pointStyle: 'circle', pointRadius: 5.8,
      pointBackgroundColor: RED_PT, pointBorderWidth: 0, order: 4, clip: 0, errs,
    },
  ];
  const scales: any = {
    x: axisScale(p.x, 'bottom', (s: any) => { s.height = PAD_B; }),
    y: axisScale(p.y, 'left', (s: any) => { s.width = p.padLeft; }),
  };
  p.hists.forEach((h) => {
    const id = (h.dir === 'h' ? 'hx' : 'hy') + h.color;
    scales[id] = {
      type: 'linear', axis: h.dir === 'h' ? 'x' : 'y', position: h.dir === 'h' ? 'bottom' : 'left',
      display: false, min: 0, max: (h.dir === 'h' ? p.width : p.height) / h.unitPx,
    };
    datasets.push({
      type: 'line', label: 'hist-' + h.color, data: histOutline(h),
      xAxisID: h.dir === 'h' ? id : 'x', yAxisID: h.dir === 'h' ? 'y' : id,
      borderColor: h.color === 'blue' ? BLUE_EDGE : RED_EDGE, borderWidth: 2,
      backgroundColor: h.color === 'blue' ? BLUE_FILL : RED_FILL,
      fill: 'shape', pointRadius: 0, tension: 0, order: h.color === 'blue' ? 3 : 2, clip: 0,
    });
  });
  (p.cuts || []).forEach((c) => {
    datasets.push({
      type: 'line', label: 'cut', data: [{ x: p.x.min, y: c }, { x: p.x.max, y: c }],
      borderColor: '#ff0000', borderWidth: 1.5, borderDash: [6, 4], pointRadius: 0, fill: false, order: 1,
    });
  });

  const decor = {
    id: 'decor-' + p.id,
    afterDatasetDraw(chart: any, args: any) {
      const ds = chart.data.datasets[args.index];
      if (!ds.errs) return;
      const { ctx, chartArea: a } = chart;
      const xs = chart.scales.x, ys = chart.scales.y;
      ctx.save();
      ctx.beginPath();
      ctx.rect(a.left, a.top, a.right - a.left, a.bottom - a.top);
      ctx.clip();
      ctx.strokeStyle = RED_ERR;
      ctx.lineWidth = 1.6;
      ds.errs.forEach(([x, y, xe, ye]: number[]) => {
        const px = xs.getPixelForValue(x), py = ys.getPixelForValue(y);
        ctx.beginPath();
        ctx.moveTo(xs.getPixelForValue(x - xe), py);
        ctx.lineTo(xs.getPixelForValue(x + xe), py);
        ctx.moveTo(px, ys.getPixelForValue(y - ye));
        ctx.lineTo(px, ys.getPixelForValue(y + ye));
        ctx.stroke();
      });
      ctx.restore();
    },
    afterDraw(chart: any) {
      const { ctx, chartArea: a } = chart;
      const xs = chart.scales.x, ys = chart.scales.y;
      ctx.save();
      ctx.strokeStyle = '#000';
      const xTicks = (vals: number[], len: number, lw: number) => {
        ctx.lineWidth = lw;
        ctx.beginPath();
        vals.forEach((v) => {
          const px = xs.getPixelForValue(v);
          ctx.moveTo(px, a.bottom); ctx.lineTo(px, a.bottom - len);
          ctx.moveTo(px, a.top); ctx.lineTo(px, a.top + len);
        });
        ctx.stroke();
      };
      const yTicks = (vals: number[], len: number, lw: number) => {
        ctx.lineWidth = lw;
        ctx.beginPath();
        vals.forEach((v) => {
          const py = ys.getPixelForValue(v);
          ctx.moveTo(a.left, py); ctx.lineTo(a.left + len, py);
          ctx.moveTo(a.right, py); ctx.lineTo(a.right - len, py);
        });
        ctx.stroke();
      };
      xTicks(stepValues(p.x, p.x.minor), 7, 1.5);
      yTicks(stepValues(p.y, p.y.minor), 7, 1.5);
      xTicks(xs.ticks.map((t: any) => t.value), 14, 2);
      yTicks(ys.ticks.map((t: any) => t.value), 14, 2);
      ctx.lineWidth = 2.5;
      ctx.strokeRect(a.left, a.top, a.right - a.left, a.bottom - a.top);
      drawRich(ctx, p.xTitle, (a.left + a.right) / 2, a.bottom + 57, 29, false, 'center');
      drawRich(ctx, p.yTitle, p.yTitleX - ox, (a.top + a.bottom) / 2, 29, true, 'center');
      if (p.legend) drawLegend(ctx, ox, oy);
      ctx.restore();
    },
  };

  return {
    type: 'scatter',
    data: { datasets },
    options: {
      responsive: false,
      animation: false,
      devicePixelRatio: 1,
      events: [],
      layout: { padding: { top: PAD_T, right: PAD_R, left: 0, bottom: 0 } },
      plugins: { legend: { display: false }, tooltip: { enabled: false } },
      scales,
    },
    plugins: [decor],
  };
}

export default function App(): React.JSX.Element {
  const canvasRefs = useRef<(HTMLCanvasElement | null)[]>([]);

  useEffect(() => {
    Chart.defaults.font.family = FONT;
    const charts = PANELS.map((p, i) => new Chart(canvasRefs.current[i] as HTMLCanvasElement, buildConfig(p)));
    return () => {
      charts.forEach((c) => c.destroy());
    };
  }, []);

  return (
    <div style={{ position: 'absolute', left: 0, top: 0, width: 1200, height: 1642, overflow: 'hidden', background: '#fff' }}>
      {PANELS.map((p, i) => {
        const w = p.padLeft + p.width + PAD_R;
        const h = PAD_T + p.height + PAD_B;
        return (
          <canvas
            key={p.id}
            ref={(el) => { canvasRefs.current[i] = el; }}
            width={w}
            height={h}
            style={{ position: 'absolute', left: p.left - p.padLeft, top: p.top - PAD_T, width: w, height: h }}
          />
        );
      })}
    </div>
  );
}
